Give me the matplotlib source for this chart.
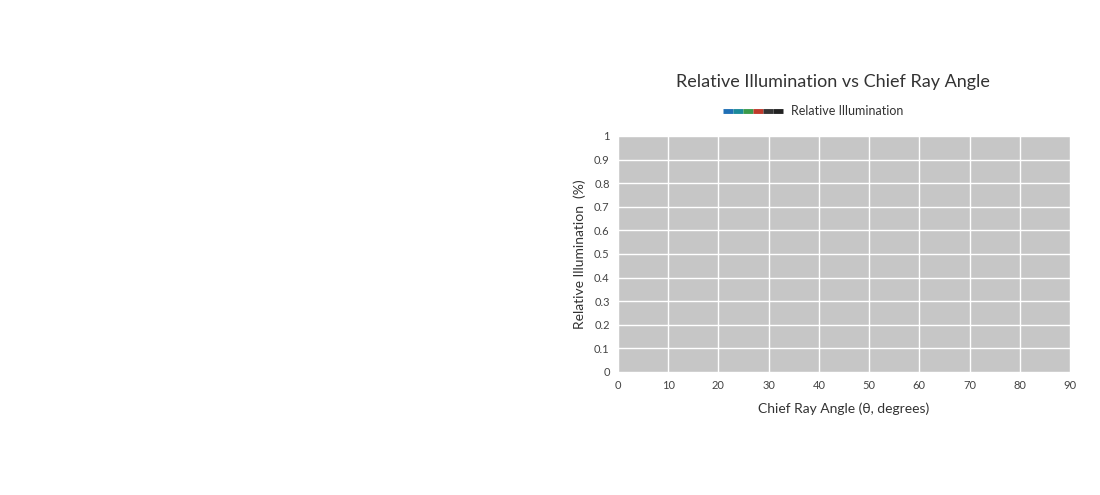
import matplotlib.pyplot as plt
from matplotlib.lines import Line2D

plt.rcParams['font.family'] = ['Lato', 'DejaVu Sans']

# the reference shows no plotted data, only an empty frame
angles = []
illumination = []
x_ticks = [0, 10, 20, 30, 40, 50, 60, 70, 80, 90]
y_ticks = [0, 0.1, 0.2, 0.3, 0.4, 0.5, 0.6, 0.7, 0.8, 0.9, 1]
legend_colors = ['#1f6fb5', '#1a8a9a', '#3a9a4a', '#c0392b', '#333333', '#222222']

fig = plt.figure(figsize=(11, 4.95), dpi=100)
ax = fig.add_axes([0.5618, 0.2485, 0.4109, 0.4768])
ax.set_facecolor('#c6c6c6')
ax.plot(angles, illumination, color='#222222')
ax.set_xlim(0, 90)
ax.set_ylim(0, 1)
ax.set_xticks(x_ticks)
ax.set_yticks(y_ticks)
ax.set_yticklabels(['0' if v == 0 else ('1' if v == 1 else f'{v:g}') for v in y_ticks])
ax.grid(True, color='white', linewidth=1)
ax.set_axisbelow(True)
for s in ax.spines.values():
    s.set_visible(False)
ax.tick_params(length=0, labelsize=8, colors='#444444', pad=6)
ax.set_xlabel('Chief Ray Angle (θ, degrees)', fontsize=10, color='#333333', labelpad=8)
ax.set_ylabel('Relative Illumination  (%)', fontsize=10, color='#333333', labelpad=6)

fig.text(0.7573, 0.835, 'Relative Illumination vs Chief Ray Angle',
         ha='center', va='center', fontsize=13, color='#333333')

# gradient legend line
x0, x1, y = 723 / 1100, 783 / 1100, 1 - 111 / 495
n = len(legend_colors)
for i, c in enumerate(legend_colors):
    xa = x0 + (x1 - x0) * i / n
    xb = x0 + (x1 - x0) * (i + 1) / n
    fig.add_artist(Line2D([xa, xb], [y, y], color=c, linewidth=3.5,
                          solid_capstyle='butt', transform=fig.transFigure))
fig.text(791 / 1100, y, 'Relative Illumination', ha='left', va='center',
         fontsize=9, color='#333333')

fig.savefig('out.png', dpi=100)
